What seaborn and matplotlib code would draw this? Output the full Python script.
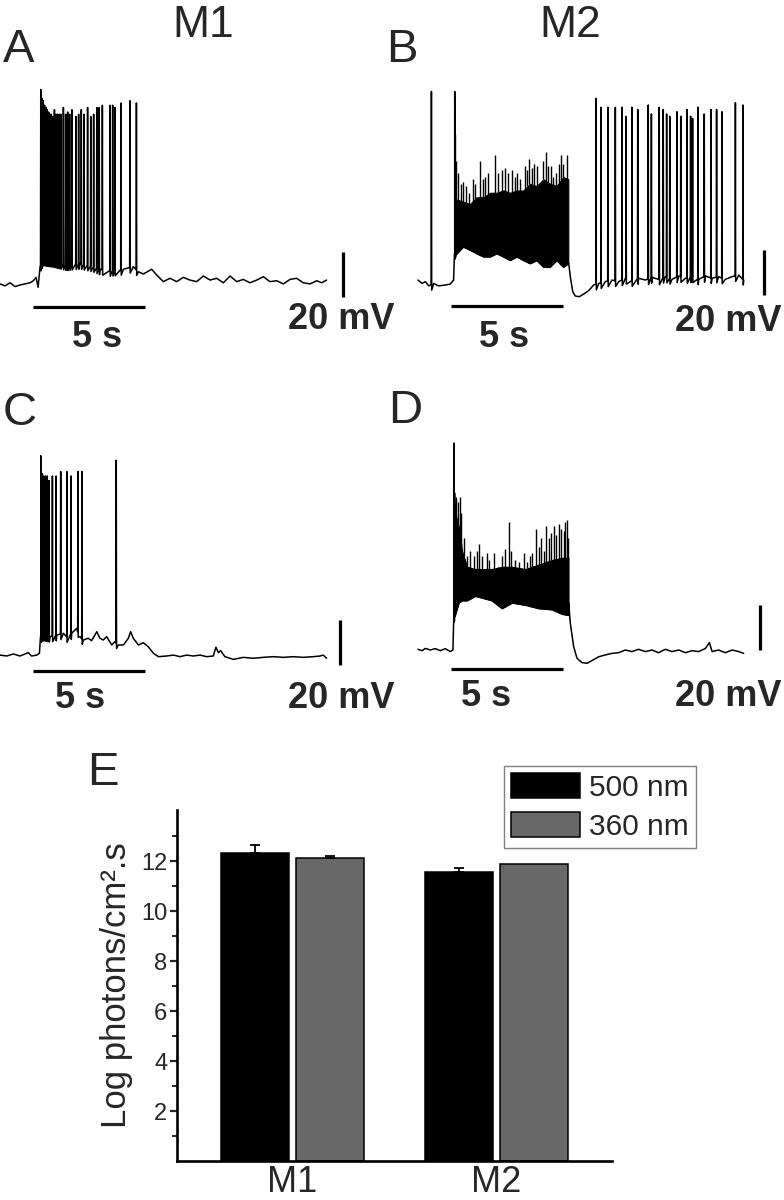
import numpy as np
import pandas as pd
import matplotlib
matplotlib.use("Agg")
import matplotlib.pyplot as plt
import seaborn as sns

sns.set_style("white")
plt.rcParams["font.family"] = ["Liberation Sans", "DejaVu Sans"]

W, H = 784, 1200
PX_PER_S = 22.4      # time scale of traces (px per second)
PX_PER_MV = 2.25     # voltage scale of traces (px per mV)

# ---------------- Panel A (M1, 500 nm) ----------------
a_slow_t = [0, 0.22, 0.45, 0.67, 0.89, 1.12, 1.34, 1.49, 1.61, 1.70, 1.79, 1.93, 2.38, 2.98, 3.57,
            4.17, 4.46, 4.91, 5.51, 5.95, 6.18, 6.40, 6.77, 6.99, 7.29, 7.59, 7.89, 8.18, 8.48, 8.78,
            9.08, 9.38, 9.67, 9.97, 10.27, 10.57, 10.86, 11.16, 11.46, 11.76, 12.05, 12.35, 12.65,
            12.95, 13.24, 13.54, 13.84, 14.14, 14.36, 14.58]
a_slow_v = [-0.4, -1.3, 0.1, -1.6, -0.9, -0.4, 0.1, 1.0, 2.5, -1.9, 7.3, 10.2, 9.5, 8.0, 8.7,
            7.3, 6.1, 5.5, 6.1, 7.3, 5.0, 4.0, 6.1, 3.6, 0.6, 2.1, 0.6, 2.5, 1.3, 0.6,
            3.1, 1.3, 2.1, 0.1, 3.1, 0.6, 1.6, 0.1, 1.3, 2.8, 0.6, 1.0, -0.4,
            1.6, 2.1, 0.1, -0.4, 1.0, 0.1, 1.3]
a_spike_t = [1.82, 1.875, 1.93, 1.99, 2.05, 2.11, 2.17, 2.23, 2.29, 2.35, 2.43, 2.50, 2.57, 2.65,
             2.72, 2.83, 2.93, 3.02, 3.11, 3.21, 3.39, 3.51, 3.63, 3.75, 3.91, 4.05, 4.18, 4.32,
             4.43, 4.57, 4.91, 5.03, 5.13, 5.40, 5.80, 6.09]
a_spike_v = [86, 82, 81, 79, 78, 77, 76, 75, 75, 74, 77, 75, 75, 75, 75, 78, 75, 76, 75, 77,
             74, 75, 77, 75, 78, 74, 75, 78, 78, 79, 79, 79, 78, 80, 81, 80]

# ---------------- Panel B (M2, 500 nm) ----------------
b_pre_t = [1.16, 1.34, 1.49, 1.64, 1.86, 2.08, 2.38, 2.60, 2.75, 2.80]
b_pre_v = [2.2, 0.7, 1.5, -0.4, 0.7, -0.4, 0, 0.4, 2.2, 14]
b_post_t = [7.89, 7.96, 8.07, 8.18, 8.36, 8.56, 8.78, 9.00, 9.23, 9.52, 9.82, 10.12, 10.42, 10.71,
            11.01, 11.31, 11.61, 11.90, 12.20, 12.50, 12.80, 13.10, 13.39, 13.69, 13.99, 14.29,
            14.58, 14.88, 15.18, 15.48, 15.70]
b_post_v = [9.6, 3.7, -3.0, -4.9, -5.2, -4.0, -2.5, 0, 0.7, 1.5, 2.2, 1.5, 3.0, 1.9,
            3.0, 2.2, 3.4, 2.5, 3.7, 2.5, 4.0, 3.0, 3.7, 2.5, 4.0, 3.0,
            3.7, 2.5, 3.7, 4.4, 2.2]
b_spike_t = [1.76, 2.80, 9.11, 9.33, 9.64, 9.97, 10.27, 10.45, 10.71, 10.97, 11.44, 11.58, 11.93,
             12.11, 12.26, 12.40, 12.72, 12.89, 13.17, 13.33, 13.42, 13.66, 13.94, 14.24, 14.49,
             14.73, 15.33, 15.67]
b_spike_v = [86, 86, 83, 79, 79, 79, 79, 75, 79, 78, 80, 76, 79, 78, 76, 75, 77, 75, 78, 75, 74,
             79, 76, 78, 78, 77, 81, 80]
b_burst_t = [2.81, 2.89, 3.18, 3.48, 3.78, 4.08, 4.38, 4.67, 4.97, 5.27, 5.57, 5.86, 6.16, 6.46,
             6.76, 7.05, 7.35, 7.65, 7.87]
b_burst_top = [38, 38, 37, 36, 39, 39, 41, 41, 42, 41, 42, 42, 45, 44, 47, 45, 44, 48, 47]
b_burst_bot = [14, 14, 17, 15.6, 14, 12.6, 12.6, 14, 12.6, 11, 12.6, 11, 9.6, 11, 8, 8, 11, 8, 9.6]
b_tip_t = [2.83, 2.86, 2.96, 3.07, 3.18, 3.30, 3.45, 3.60, 3.71, 3.93, 4.05, 4.15, 4.30, 4.45,
           4.60, 4.75, 4.90, 5.04, 5.19, 5.34, 5.49, 5.59, 5.71, 5.94, 6.04, 6.13, 6.24, 6.34,
           6.46, 6.61, 6.76, 6.87, 6.98, 7.08, 7.20, 7.32, 7.44, 7.55, 7.65, 7.72, 7.83]
b_tip_v = [67, 55, 50, 45, 46, 44, 41, 47, 45, 55, 47, 48, 50, 40, 58, 50, 51, 52, 50, 51, 48,
           50, 47, 53, 51, 56, 52, 54, 53, 44, 55, 59, 53, 53, 48, 50, 54, 58, 54, 47, 58]

# ---------------- Panel C (M1, 360 nm) ----------------
c_slow_t = [0, 0.30, 0.60, 0.89, 1.12, 1.26, 1.41, 1.64, 1.76, 1.82, 1.93, 2.23, 2.53, 2.83, 2.98,
            3.20, 3.42, 3.57, 3.72, 3.94, 4.09, 4.32, 4.46, 4.61, 4.76, 4.99, 5.13, 5.28, 5.51,
            5.73, 5.83, 5.95, 6.18, 6.40, 6.62, 6.85, 7.07, 7.44, 7.74, 8.04, 8.33, 8.63, 8.93,
            9.23, 9.52, 9.64, 9.75, 9.85, 10.04, 10.42, 10.86, 11.31, 11.76, 12.20, 12.65, 13.10,
            13.54, 13.99, 14.29, 14.43, 14.58]
c_slow_v = [0.4, 0, 0.9, 0, 0.9, 1.5, 0, 0.4, 1.2, 8.6, 9.3, 8.6, 9.3, 10.1, 8.6,
            10.1, 12.3, 8.6, 7.1, 7.9, 6.8, 10.8, 7.9, 7.1, 8.6, 4.9, 6.4, 4.9, 4.9,
            7.9, 10.8, 7.9, 4.9, 5.9, 4.1, 1.2, -0.3, 0, 0.4, -0.3, 0.4, 0, 0.4,
            -0.3, 0, 3.9, 1.5, 2.4, -0.3, -1.5, -0.6, -1.0, -0.6, -0.3, -0.6, -0.3,
            -0.6, -0.3, 0, 0.4, -1.0]
c_spike_t = [1.82, 1.89, 1.96, 2.04, 2.11, 2.19, 2.34, 2.50, 2.71, 2.98, 3.17, 3.48, 3.66, 5.19]
c_spike_v = [89, 81, 80, 80, 80, 78, 80, 80, 82, 82, 80, 82, 82, 87]

# ---------------- Panel D (M2, 360 nm) ----------------
d_pre_t = [1.16, 1.34, 1.49, 1.71, 1.93, 2.16, 2.38, 2.60, 2.72, 2.77]
d_pre_v = [0.3, -0.3, 0.7, 0, 0.6, -0.3, 0.6, -0.7, 0, 15]
d_post_t = [7.89, 7.96, 8.11, 8.26, 8.48, 8.71, 8.93, 9.23, 9.52, 9.82, 10.12, 10.42, 10.71, 11.01,
            11.31, 11.61, 11.90, 12.20, 12.50, 12.80, 13.10, 13.39, 13.69, 13.99, 14.17, 14.29,
            14.58, 14.88, 15.18, 15.48, 15.70]
d_post_v = [20.7, 11.9, 1.5, -3.7, -5.6, -5.9, -4.7, -3.0, -2.2, -1.5, -1.2, 0, -0.7, 0.3,
            -0.7, 0, -1.2, 0.3, -0.7, 0, -1.2, -0.3, -0.7, 0.7, 3.3, -0.7,
            0, -1.2, 0, -0.7, -1.5]
d_spike_t = [2.77]
d_spike_v = [92]
d_burst_t = [2.78, 2.80, 2.98, 3.13, 3.35, 3.72, 4.46, 4.91, 5.36, 5.95, 6.55, 7.14, 7.59, 7.88]
d_burst_top = [70, 62, 55, 44, 37, 36, 36, 37, 37, 36, 38, 40, 41, 41]
d_burst_bot = [15, 15, 21, 22, 22, 24, 22, 18.5, 21, 20, 18.5, 18, 16, 15.5]
d_tip_t = [2.87, 2.95, 3.02, 3.10, 3.20, 3.35, 3.50, 3.65, 3.79, 3.90, 4.02, 4.24, 4.35, 4.54,
           4.73, 4.91, 5.06, 5.21, 5.33, 5.48, 5.65, 5.88, 6.03, 6.18, 6.25, 6.43, 6.55, 6.67,
           6.77, 6.88, 6.99, 7.11, 7.22, 7.32, 7.44, 7.56, 7.66, 7.74, 7.81, 7.86]
d_tip_v = [68, 66, 68, 61, 50, 42, 44, 42, 44, 47, 42, 43, 40, 43, 37, 42, 45, 57, 44, 40,
           39, 43, 39, 42, 43, 54, 46, 50, 44, 55, 50, 52, 55, 51, 56, 54, 53, 57, 58, 50]

# scale bars: 5 s and 20 mV
TIME_BAR_S = 5
VOLT_BAR_MV = 20

# ---------------- Panel E (bar chart) ----------------
groups = ["M1", "M2"]
wavelengths = ["500 nm", "360 nm"]
log_photons_500 = [12.31, 11.56]
log_photons_360 = [12.11, 11.88]
sem_500 = [0.32, 0.16]
sem_360 = [0.10, 0.0]
yticks_major = [2, 4, 6, 8, 10, 12]


def build_trace(slow_t, slow_v, spk_t, spk_v, half=0.012, ahp=2.5):
    t = list(slow_t)
    v = list(slow_v)
    for ts, vp in zip(spk_t, spk_v):
        base = float(np.interp(ts, slow_t, slow_v))
        t += [ts - half, ts, ts + half]
        v += [base, vp, base - ahp]
    t = np.asarray(t, float)
    v = np.asarray(v, float)
    order = np.argsort(t, kind="stable")
    return pd.DataFrame({"t": t[order], "v": v[order]})


fig = plt.figure(figsize=(W / 100, H / 100), dpi=100)


def ftext(x, y, s, **kw):
    fig.text(x / W, 1 - y / H, s, **kw)


def trace_axes(x0, ytop, ref, w=392, h=300):
    ax = fig.add_axes([x0 / W, 1 - (ytop + h) / H, w / W, h / H])
    ax.set_xlim(0, w / PX_PER_S)
    ax.set_ylim(-(ytop + h - ref) / PX_PER_MV, (ref - ytop) / PX_PER_MV)
    ax.axis("off")
    return ax


def draw_panel(ax, df, tbar, vbar, burst=None, tips=None):
    if burst is not None:
        bt, btop, bbot = burst
        ax.fill_between(bt, bbot, btop, color="black", lw=0.8, edgecolor="black")
    if tips is not None:
        tt, tv = tips
        ax.vlines(tt, np.interp(tt, burst[0], burst[1]), tv, color="black", lw=1.0)
    sns.lineplot(data=df, x="t", y="v", sort=False, estimator=None, color="black",
                 lw=1.1, ax=ax)
    ax.plot([tbar[0], tbar[0] + TIME_BAR_S], [tbar[1], tbar[1]], color="black", lw=2.3,
            solid_capstyle="butt")
    ax.plot([vbar[0], vbar[0]], [vbar[1], vbar[1] + VOLT_BAR_MV], color="black", lw=2.3,
            solid_capstyle="butt")
    ax.axis("off")


axA = trace_axes(0, 60, 283)
draw_panel(axA, build_trace(a_slow_t, a_slow_v, a_spike_t, a_spike_v), (1.47, -10.7), (15.31, -6.2))

axB = trace_axes(392, 60, 285)
b_slow_t = b_pre_t + b_burst_t + b_post_t
b_slow_v = b_pre_v + b_burst_bot + b_post_v
draw_panel(axB, build_trace(b_slow_t, b_slow_v, b_spike_t, b_spike_v), (2.63, -9.3), (16.61, -4.4),
           burst=(b_burst_t, b_burst_top, b_burst_bot), tips=(b_tip_t, b_tip_v))

axC = trace_axes(0, 420, 656)
draw_panel(axC, build_trace(c_slow_t, c_slow_v, c_spike_t, c_spike_v), (1.47, -6.7), (15.18, -4.0))

axD = trace_axes(392, 420, 650)
d_slow_t = d_pre_t + d_burst_t + d_post_t
d_slow_v = d_pre_v + d_burst_bot + d_post_v
draw_panel(axD, build_trace(d_slow_t, d_slow_v, d_spike_t, d_spike_v), (2.63, -8.4), (16.43, 0.0),
           burst=(d_burst_t, d_burst_top, d_burst_bot), tips=(d_tip_t, d_tip_v))

# texts
for lab, x, y in [("A", 3, 62), ("B", 386, 62), ("C", 3, 425), ("D", 388, 423), ("E", 87, 785)]:
    ftext(x, y, lab, fontsize=34, ha="left", va="baseline")
ftext(203, 37, "M1", fontsize=32, ha="center", va="baseline")
ftext(570, 37, "M2", fontsize=32, ha="center", va="baseline")
for x, y in [(97, 347), (504, 347), (80, 708), (486, 706)]:
    ftext(x, y, "5 s", fontsize=26, fontweight="bold", ha="center", va="baseline")
for x, y in [(288, 329), (675, 331), (288, 708), (675, 706)]:
    ftext(x, y, "20 mV", fontsize=26, fontweight="bold", ha="left", va="baseline")

# ---------------- bar chart ----------------
axE = fig.add_axes([177 / W, 1 - 1161 / H, 435 / W, 351 / H])
bar_df = pd.DataFrame({
    "group": groups * 2,
    "wavelength": [wavelengths[0]] * 2 + [wavelengths[1]] * 2,
    "value": log_photons_500 + log_photons_360,
})
BAR_W = 0.735
sns.barplot(data=bar_df, x="group", y="value", hue="wavelength", hue_order=wavelengths,
            palette={wavelengths[0]: "#000000", wavelengths[1]: "#686868"},
            width=BAR_W, gap=0.094, edgecolor="black", linewidth=1.1, errorbar=None,
            saturation=1, ax=axE)
for hi, (vals, errs) in enumerate([(log_photons_500, sem_500), (log_photons_360, sem_360)]):
    for gi, (val, err) in enumerate(zip(vals, errs)):
        if err > 0:
            xpos = gi + (hi - 0.5) * BAR_W / 2
            axE.errorbar([xpos], [val], yerr=[[0], [err]], fmt="none", ecolor="black",
                         elinewidth=1.3, capsize=3.5, capthick=1.3)
axE.set_xlim(-0.564, 1.566)
axE.set_ylim(0, 14.04)
axE.set_yticks(yticks_major)
axE.set_yticks(np.arange(1, 14, 2), minor=True)
axE.tick_params(axis="y", which="major", direction="out", length=5, width=1.6,
                labelsize=17, pad=2, left=True)
axE.tick_params(axis="y", which="minor", direction="out", length=3.5, width=1.4, left=True)
axE.tick_params(axis="x", length=0, labelsize=26, pad=3)
for side in ["top", "right"]:
    axE.spines[side].set_visible(False)
for side in ["left", "bottom"]:
    axE.spines[side].set_linewidth(1.9)
    axE.spines[side].set_color("black")
axE.set_xlabel("")
axE.set_ylabel("Log photons/cm\u00b2.s", fontsize=25, labelpad=6)
handles, labels = axE.get_legend_handles_labels()
axE.legend(handles, labels, loc="upper left", bbox_to_anchor=(504 / W, 1 - 766 / H),
           bbox_transform=fig.transFigure, borderaxespad=0, fontsize=21.5, frameon=True,
           fancybox=False, edgecolor="#808080", framealpha=1, handlelength=2.3,
           handleheight=0.9, handletextpad=0.3, labelspacing=0.33, borderpad=0.25)
axE.get_legend().get_frame().set_linewidth(1.0)

fig.savefig("out.png", dpi=100)
